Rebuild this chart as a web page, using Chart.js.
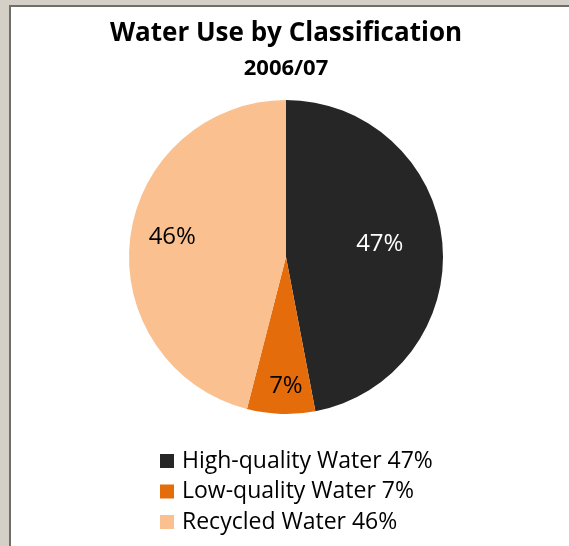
<!DOCTYPE html>
<html>
<head>
<meta charset="utf-8">
<script src="https://cdn.jsdelivr.net/npm/chart.js@4/dist/chart.umd.min.js"></script>
<style>
    html, body { margin: 0; padding: 0; }
    body { width: 569px; height: 546px; background: #d4d0c8; overflow: hidden; position: relative; }
    #frame {
        position: absolute; left: 9px; top: 5px; right: 0; bottom: 0;
        border-left: 2px solid #6f6f6a; border-top: 2px solid #6f6f6a;
        background: #ffffff;
    }
    #chart-wrap { position: absolute; left: 0; top: 0; width: 558px; height: 539px; }
</style>
</head>
<body>
<div id="frame">
    <div id="chart-wrap"><canvas id="waterChart"></canvas></div>
</div>
<script>
// Chart data
const chartTitle = 'Water Use by Classification';
const chartSubtitle = '2006/07';
const categories = ['High-quality Water', 'Low-quality Water', 'Recycled Water'];
const shares = [47, 7, 46];
const sliceColors = ['#262626', '#e46c0a', '#fac090'];
const labelColors = ['#ffffff', '#000000', '#000000'];

const fontFamily = "'Open Sans', 'Noto Sans', sans-serif";

// % labels inside each slice
const sliceLabels = {
    id: 'sliceLabels',
    afterDatasetsDraw(chart, args, opts) {
        const ctx = chart.ctx;
        const meta = chart.getDatasetMeta(0);
        ctx.save();
        ctx.font = opts.font;
        ctx.textAlign = 'center';
        ctx.textBaseline = 'middle';
        meta.data.forEach((arc, i) => {
            const p = arc.getProps(['x', 'y', 'startAngle', 'endAngle', 'outerRadius'], true);
            const mid = (p.startAngle + p.endAngle) / 2;
            const r = p.outerRadius * opts.radius[i];
            ctx.fillStyle = labelColors[i];
            ctx.fillText(shares[i] + '%', p.x + Math.cos(mid) * r + opts.dx[i], p.y + Math.sin(mid) * r + opts.dy[i]);
        });
        ctx.restore();
    }
};

// legend stacked under the pie, left aligned as one block
const blockLegend = {
    id: 'blockLegend',
    afterDraw(chart, args, opts) {
        const ctx = chart.ctx;
        ctx.save();
        ctx.font = opts.font;
        ctx.textAlign = 'left';
        ctx.textBaseline = 'middle';
        categories.forEach((name, i) => {
            const y = opts.top + i * opts.rowHeight;
            ctx.fillStyle = sliceColors[i];
            ctx.fillRect(opts.left, y - opts.box / 2, opts.box, opts.box);
            ctx.fillStyle = '#000000';
            ctx.fillText(name + ' ' + shares[i] + '%', opts.left + opts.box + opts.gap, y);
        });
        ctx.restore();
    }
};

const ctx = document.getElementById('waterChart').getContext('2d');

const chart = new Chart(ctx, {
    type: 'pie',
    data: {
        labels: categories,
        datasets: [{
            data: shares,
            backgroundColor: sliceColors,
            borderWidth: 0,
            radius: 157,
            clip: false
        }]
    },
    options: {
        responsive: true,
        maintainAspectRatio: false,
        animation: false,
        layout: {
            padding: { left: 0, right: 8, top: 12, bottom: 108 }
        },
        plugins: {
            title: {
                display: true,
                text: chartTitle,
                color: '#000000',
                font: { family: fontFamily, size: 26, weight: 'bold', lineHeight: 1 },
                padding: { top: 2, bottom: 10.5 }
            },
            subtitle: {
                display: true,
                text: chartSubtitle,
                color: '#000000',
                font: { family: fontFamily, size: 22, weight: 'bold', lineHeight: 1 },
                padding: { top: 0, bottom: -3.5 }
            },
            legend: { display: false },
            tooltip: { enabled: false },
            sliceLabels: {
                font: '24px ' + fontFamily,
                radius: [0.6, 0.83, 0.73],
                dx: [0, 4, 0],
                dy: [-4, -1, -5]
            },
            blockLegend: {
                font: '23px ' + fontFamily,
                left: 149,
                top: 454,
                rowHeight: 30.5,
                box: 14,
                gap: 8
            }
        }
    },
    plugins: [sliceLabels, blockLegend]
});
</script>
</body>
</html>
